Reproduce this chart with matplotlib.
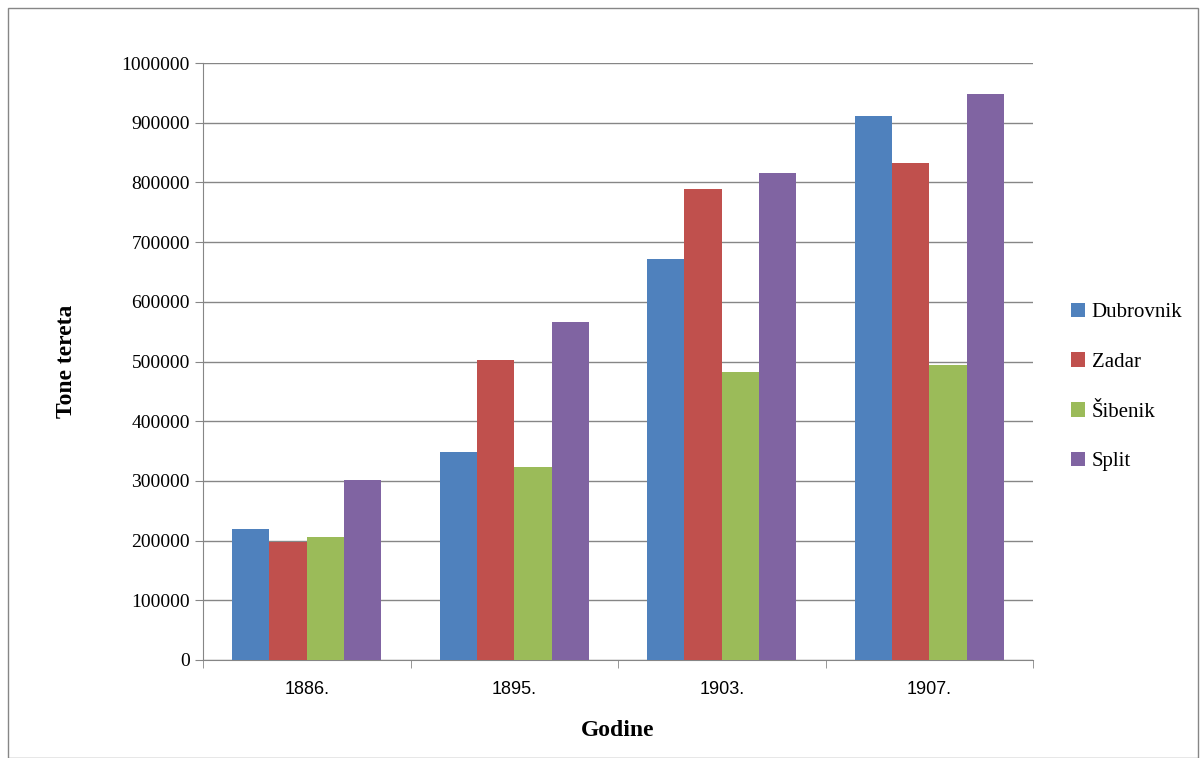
import matplotlib.pyplot as plt
import numpy as np

years = ['1886.', '1895.', '1903.', '1907.']
cities = ['Dubrovnik', 'Zadar', 'Šibenik', 'Split']
dubrovnik = [220000, 348000, 671000, 911000]
zadar = [197000, 503000, 789000, 832000]
sibenik = [206000, 324000, 483000, 494000]
split = [302000, 566000, 816000, 948000]
colors = ['#4F81BD', '#C0504D', '#9BBB59', '#8064A2']

fig = plt.figure(figsize=(12.03, 7.58), dpi=100)
ax = fig.add_axes([203/1203, 1-660/758, 830/1203, 597/758])

x = np.arange(len(years))
w = 0.18
for i, vals in enumerate([dubrovnik, zadar, sibenik, split]):
    ax.bar(x + (i - 1.5) * w, vals, w, color=colors[i], label=cities[i], zorder=3)

ax.set_xlim(-0.5, 3.5)
ax.set_ylim(0, 1000000)
ax.set_yticks(range(0, 1000001, 100000))
ax.set_yticklabels([str(v) for v in range(0, 1000001, 100000)],
                   family='Liberation Serif', fontsize=14)
ax.yaxis.grid(True, color='#868686', linewidth=1, zorder=0)
ax.set_xticks(x)
ax.set_xticklabels(years, family='Liberation Sans', fontsize=13)
ax.set_xticks([-0.5, 0.5, 1.5, 2.5, 3.5], minor=True)
ax.tick_params(axis='x', which='major', length=0, pad=15)
ax.tick_params(axis='x', which='minor', length=6, color='#868686')
ax.tick_params(axis='y', length=6, color='#868686')
for s in ['top', 'right']:
    ax.spines[s].set_visible(False)
for s in ['left', 'bottom']:
    ax.spines[s].set_color('#868686')

ax.set_xlabel('Godine', family='Liberation Serif', fontsize=17, fontweight='bold', labelpad=16)
ax.set_ylabel('Tone tereta', family='Liberation Serif', fontsize=17, fontweight='bold', labelpad=32)

leg = fig.legend(loc='center left', bbox_to_anchor=(1052/1203, 1-387/758), frameon=False,
                 prop={'family': 'Liberation Serif', 'size': 15},
                 handlelength=0.7, handleheight=0.7, labelspacing=1.45, handletextpad=0.3)

fig.patches.append(plt.Rectangle((8/1203, 0), 1190/1203, 750/758, transform=fig.transFigure,
                                 fill=False, edgecolor='#868686', linewidth=1))

fig.savefig('out.png')
